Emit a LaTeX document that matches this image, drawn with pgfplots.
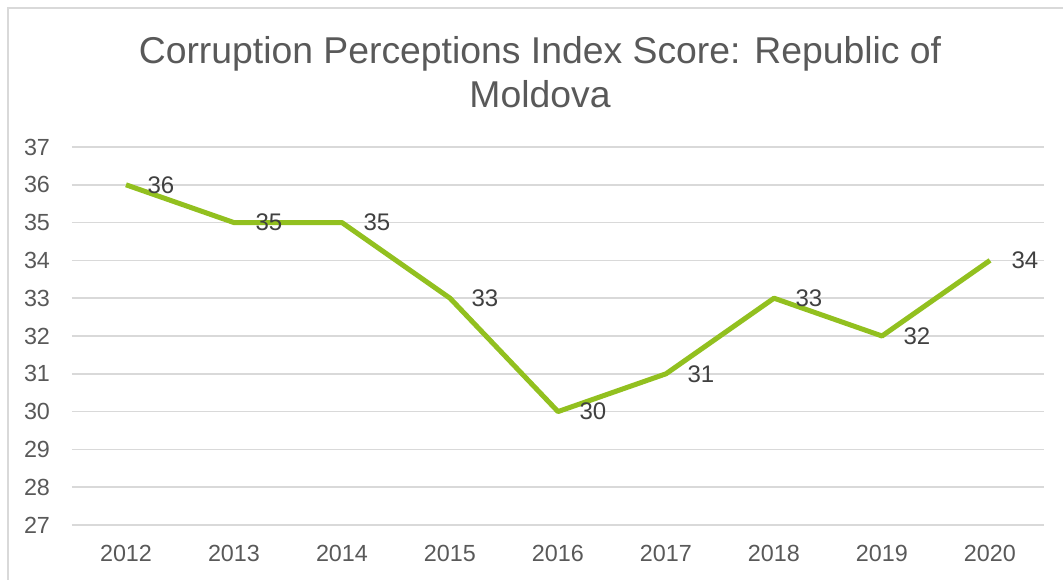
\documentclass[border=0pt]{standalone}
\usepackage{pgfplots}
\pgfplotsset{compat=1.18}
\usepackage{fontspec}
\setmainfont{Liberation Sans}
\definecolor{txt}{HTML}{595959}
\definecolor{lbl}{HTML}{404040}
\definecolor{gridc}{HTML}{D9D9D9}
\definecolor{lime}{HTML}{92C01F}
\begin{document}
\begin{tikzpicture}[x=0.75pt,y=0.75pt]
\useasboundingbox (0,0) rectangle (1063,580);
\draw[gridc,line width=1.2pt] (8,-5) -- (8,572) -- (1070,572);
\node[txt,font=\fontsize{28}{33}\selectfont,align=center] at (540,508) {Corruption Perceptions Index Score: Republic of\\Moldova};
\begin{axis}[
  at={(72pt*0.75,55pt*0.75)}, anchor=south west,
  scale only axis, width=729pt, height=283.5pt,
  xmin=2011.5, xmax=2020.5, ymin=27, ymax=37,
  xtick={2012,...,2020}, ytick={27,...,37},
  xticklabel style={/pgf/number format/1000 sep={}},
  /pgf/number format/assume math mode=true,
  axis line style={draw=none},
  tick style={draw=none},
  xmajorgrids=false, ymajorgrids=true, grid style={draw=gridc,line width=1.2pt},
  ticklabel style={font=\fontsize{17.5}{20}\selectfont,text=txt},
  yticklabel style={xshift=-13pt},
  xticklabel style={yshift=-12pt},
  nodes near coords,
  every node near coord/.append style={font=\fontsize{18}{20}\selectfont,text=lbl,anchor=west,xshift=11pt},
  clip=false,
]
\addplot[lime,line width=3.75pt,line join=round,mark=none] coordinates {
(2012,36) (2013,35) (2014,35) (2015,33) (2016,30) (2017,31) (2018,33) (2019,32) (2020,34)};
\end{axis}
\end{tikzpicture}
\end{document}
